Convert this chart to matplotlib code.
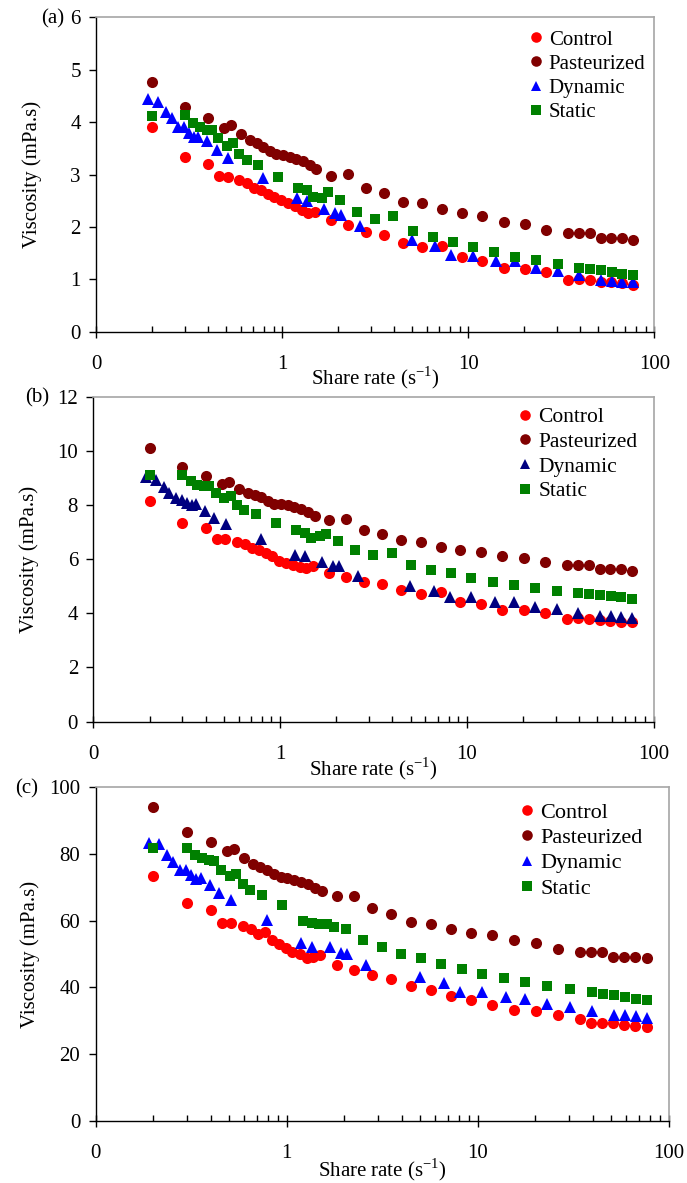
import matplotlib
matplotlib.use('Agg')
import matplotlib.pyplot as plt
from matplotlib.ticker import FixedLocator, LogLocator, FuncFormatter, NullFormatter

plt.rcParams['font.family'] = ['Liberation Serif', 'DejaVu Serif']
plt.rcParams['mathtext.fontset'] = 'custom'
plt.rcParams['mathtext.rm'] = 'Liberation Serif'

# shear rates (s-1) for each treatment
x_control = [0.2, 0.3, 0.4, 0.46, 0.51, 0.59, 0.65, 0.71, 0.77, 0.84, 0.91, 0.99, 1.07, 1.17,
             1.28, 1.38, 1.5, 1.84, 2.26, 2.81, 3.53, 4.46, 5.67, 7.26, 9.25, 11.9, 15.5, 20.2,
             26.2, 34.3, 39.3, 44.9, 51.4, 58.7, 66.8, 76.6]
x_past = [0.2, 0.3, 0.4, 0.49, 0.53, 0.6, 0.67, 0.73, 0.79, 0.86, 0.93, 1.01, 1.1, 1.19,
          1.3, 1.41, 1.53, 1.84, 2.26, 2.81, 3.53, 4.46, 5.67, 7.26, 9.25, 11.9, 15.5, 20.2,
          26.2, 34.3, 39.3, 44.9, 51.4, 58.7, 66.8, 76.6]
x_dyn = [0.191, 0.216, 0.238, 0.255, 0.277, 0.297, 0.317, 0.336, 0.355, 0.397, 0.445, 0.514,
         0.793, 1.197, 1.36, 1.68, 1.92, 2.08, 2.62, 4.97, 6.64, 8.12, 10.6, 14.1, 17.8, 23.1,
         30.3, 39.5, 51.7, 59.1, 67.3, 77.1]
x_static = [0.2, 0.3, 0.333, 0.361, 0.393, 0.418, 0.454, 0.503, 0.546, 0.59, 0.645, 0.743,
            0.952, 1.22, 1.36, 1.47, 1.63, 1.77, 2.05, 2.52, 3.16, 3.96, 5.04, 6.45, 8.26, 10.6,
            13.8, 17.8, 23.1, 30.3, 39.5, 45.1, 51.7, 59.1, 67.3, 77.1]

# (a)
a_control = [3.90, 3.34, 3.20, 2.97, 2.96, 2.90, 2.84, 2.74, 2.70, 2.62, 2.58, 2.51, 2.45, 2.40,
             2.32, 2.26, 2.28, 2.13, 2.04, 1.91, 1.85, 1.70, 1.62, 1.64, 1.43, 1.35, 1.21, 1.19,
             1.13, 0.99, 1.01, 0.99, 0.95, 0.94, 0.92, 0.89]
a_past = [4.76, 4.28, 4.07, 3.88, 3.94, 3.77, 3.65, 3.60, 3.53, 3.44, 3.39, 3.37, 3.33, 3.29,
          3.25, 3.18, 3.10, 2.97, 3.01, 2.74, 2.65, 2.48, 2.45, 2.34, 2.26, 2.21, 2.10, 2.06,
          1.95, 1.88, 1.88, 1.88, 1.79, 1.78, 1.78, 1.75]
a_dyn = [4.44, 4.39, 4.20, 4.07, 3.91, 3.90, 3.80, 3.72, 3.72, 3.63, 3.47, 3.31, 2.93, 2.55,
         2.50, 2.34, 2.26, 2.23, 2.02, 1.75, 1.64, 1.46, 1.44, 1.34, 1.34, 1.21, 1.16, 1.08,
         0.99, 0.97, 0.94, 0.94]
a_static = [4.12, 4.14, 3.99, 3.90, 3.85, 3.84, 3.69, 3.54, 3.61, 3.40, 3.28, 3.18, 2.96, 2.75,
            2.70, 2.58, 2.55, 2.67, 2.51, 2.28, 2.16, 2.21, 1.92, 1.81, 1.72, 1.61, 1.52, 1.43,
            1.37, 1.29, 1.21, 1.19, 1.17, 1.13, 1.11, 1.08]

# (b)
b_control = [8.14, 7.32, 7.14, 6.75, 6.75, 6.63, 6.55, 6.40, 6.32, 6.24, 6.10, 5.95, 5.86, 5.78,
             5.71, 5.69, 5.75, 5.47, 5.35, 5.16, 5.08, 4.87, 4.71, 4.77, 4.43, 4.34, 4.14, 4.12,
             4.00, 3.79, 3.83, 3.79, 3.76, 3.73, 3.69, 3.67]
b_past = [10.10, 9.39, 9.08, 8.77, 8.85, 8.60, 8.44, 8.38, 8.29, 8.14, 8.04, 8.02, 7.99, 7.92,
          7.87, 7.75, 7.59, 7.43, 7.47, 7.07, 6.94, 6.69, 6.63, 6.46, 6.35, 6.28, 6.12, 6.06,
          5.90, 5.79, 5.79, 5.79, 5.63, 5.63, 5.63, 5.57]
b_dyn = [9.02, 8.94, 8.65, 8.44, 8.26, 8.20, 8.08, 7.99, 8.02, 7.77, 7.52, 7.30, 6.73, 6.16,
         6.12, 5.91, 5.75, 5.75, 5.38, 5.02, 4.83, 4.59, 4.59, 4.40, 4.40, 4.22, 4.16, 4.00,
         3.91, 3.91, 3.88, 3.83]
b_static = [9.09, 9.12, 8.87, 8.75, 8.69, 8.69, 8.44, 8.26, 8.32, 7.99, 7.81, 7.67, 7.34, 7.06,
            6.95, 6.79, 6.85, 6.92, 6.67, 6.33, 6.14, 6.22, 5.79, 5.60, 5.47, 5.32, 5.17, 5.05,
            4.95, 4.83, 4.75, 4.71, 4.67, 4.64, 4.59, 4.53]

# (c)
c_control = [73.2, 65.1, 63.1, 59.4, 59.3, 58.4, 57.6, 56.1, 56.6, 54.3, 53.1, 51.9, 50.6, 50.1,
             48.7, 49.1, 49.6, 46.7, 45.2, 43.7, 42.4, 40.4, 39.2, 37.4, 36.2, 34.9, 33.2, 32.9,
             31.7, 30.7, 29.3, 29.3, 29.3, 28.7, 28.5, 28.2]
c_past = [93.9, 86.4, 83.5, 80.7, 81.3, 78.8, 76.8, 76.0, 75.2, 73.8, 73.0, 72.8, 72.2, 71.6,
          71.0, 69.8, 68.7, 67.3, 67.3, 63.6, 62.1, 59.6, 59.1, 57.4, 56.3, 55.6, 54.1, 53.3,
          51.6, 50.6, 50.6, 50.6, 49.1, 49.1, 49.1, 48.7]
c_dyn = [83.2, 82.8, 79.5, 77.5, 75.2, 75.0, 73.5, 72.5, 72.8, 70.5, 68.1, 66.1, 60.1, 53.2,
         52.1, 52.1, 50.3, 50.1, 46.7, 43.0, 41.2, 38.7, 38.5, 37.2, 36.7, 35.0, 34.2, 33.0,
         31.7, 31.7, 31.4, 30.9]
c_static = [81.8, 81.8, 79.5, 78.8, 78.2, 77.8, 75.2, 73.2, 74.0, 70.8, 69.0, 67.6, 64.6, 60.0,
            59.3, 58.9, 59.1, 58.1, 57.6, 54.1, 52.1, 49.9, 48.7, 47.0, 45.4, 44.0, 42.7, 41.5,
            40.4, 39.4, 38.5, 38.0, 37.7, 37.2, 36.7, 36.2]

labels = ['Control', 'Pasteurized', 'Dynamic', 'Static']

W, H = 687, 1183
fig = plt.figure(figsize=(W / 100, H / 100), dpi=100)


def px_axes(left, right, top, bottom):
    return fig.add_axes([left / W, 1 - bottom / H, (right - left) / W, (bottom - top) / H])


def draw_panel(ax, ys, ymax, ystep, dyn_color, tag, tag_x, tag_y, leg_x, leg_y, leg_fs):
    ax.plot(x_control, ys[0], 'o', color='#ff0000', ms=8, mew=0, label=labels[0])
    ax.plot(x_past, ys[1], 'o', color='#800000', ms=8, mew=0, label=labels[1])
    ax.plot(x_dyn, ys[2], '^', color=dyn_color, ms=8, mew=0, label=labels[2])
    ax.plot(x_static, ys[3], 's', color='#008000', ms=7, mew=0, label=labels[3])

    ax.set_xscale('log')
    ax.set_xlim(0.1, 100)
    ax.set_ylim(0, ymax)
    ax.set_yticks(range(0, ymax + 1, ystep))
    ax.xaxis.set_major_locator(FixedLocator([0.1, 1, 10, 100]))
    ax.xaxis.set_major_formatter(FuncFormatter(lambda v, p: f'{v:.0f}'))
    ax.xaxis.set_minor_locator(LogLocator(base=10, subs=range(2, 10)))
    ax.xaxis.set_minor_formatter(NullFormatter())

    ax.tick_params(axis='x', which='major', direction='inout', length=9, width=1,
                   labelsize=15, pad=12)
    ax.tick_params(axis='x', which='minor', direction='in', length=4, width=1)
    ax.tick_params(axis='y', which='major', direction='out', length=5, width=1,
                   labelsize=15, pad=6)

    for s in ['top', 'right']:
        ax.spines[s].set_color('#a6a6a6')
        ax.spines[s].set_linewidth(1.2)
    for s in ['left', 'bottom']:
        ax.spines[s].set_color('black')
        ax.spines[s].set_linewidth(1.0)

    ax.set_ylabel('Viscosity (mPa.s)', fontsize=15)
    ax.yaxis.set_label_coords(-0.097, 0.5)
    ax.set_xlabel(r'Share rate (s$^{\mathregular{-1}}$)', fontsize=15)
    ax.xaxis.set_label_coords(0.5, -0.105)

    fig.text(tag_x / W, 1 - tag_y / H, tag, ha='right', va='center', fontsize=15)

    ax.legend(loc='upper left', bbox_to_anchor=(leg_x / W, 1 - leg_y / H),
              bbox_transform=fig.transFigure, frameon=False, fontsize=leg_fs,
              handlelength=0.6, handletextpad=0.32, labelspacing=0.22, borderpad=0,
              borderaxespad=0, markerscale=0.95)


ax_a = px_axes(96, 654.3, 17.3, 331.7)
draw_panel(ax_a, [a_control, a_past, a_dyn, a_static], 6, 1, '#0000ff',
           '(a)', 64, 19, 529.5, 30, 15)

ax_b = px_axes(93.3, 653.5, 396.7, 721.6)
draw_panel(ax_b, [b_control, b_past, b_dyn, b_static], 12, 2, '#000080',
           '(b)', 49, 398, 518.5, 407, 15.5)

ax_c = px_axes(95.5, 668.7, 786.7, 1121.3)
draw_panel(ax_c, [c_control, c_past, c_dyn, c_static], 100, 20, '#0000ff',
           '(c)', 38, 789, 520, 802, 16)

fig.savefig('out.png', dpi=100)
